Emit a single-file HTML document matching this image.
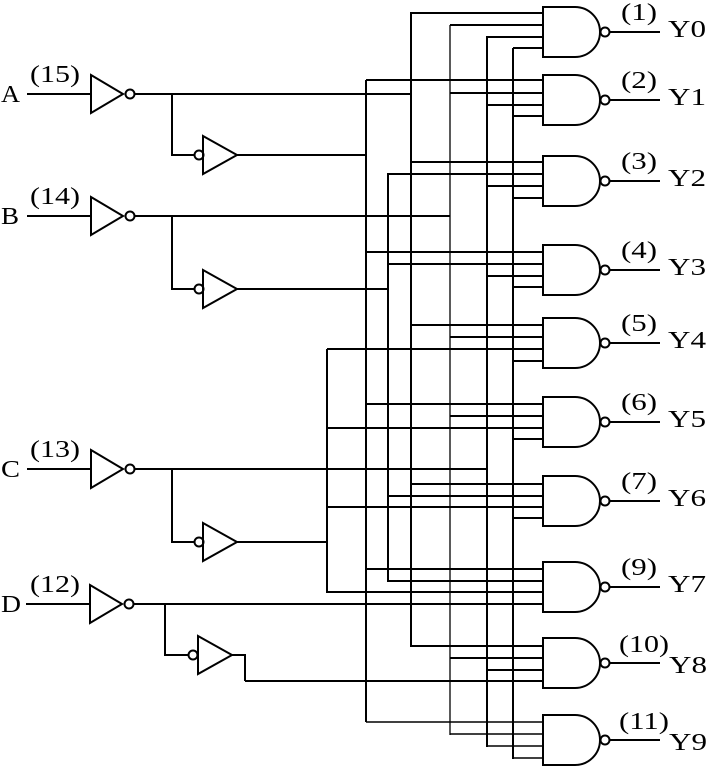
<!DOCTYPE html>
<html><head><style>html,body{margin:0;padding:0;background:#fff}svg{display:block}</style></head><body>
<svg width="707" height="767" viewBox="0 0 707 767" xmlns="http://www.w3.org/2000/svg" font-family="Liberation Serif, serif" font-size="24">
<g stroke="#000" stroke-width="2" fill="none">
<line x1="327" y1="349" x2="327" y2="593"/>
<line x1="366" y1="80" x2="366" y2="722"/>
<line x1="388" y1="173" x2="388" y2="582"/>
<line x1="411" y1="12" x2="411" y2="647"/>
<line x1="450" y1="25" x2="450" y2="735" stroke-width="1.3"/>
<line x1="487" y1="36" x2="487" y2="747"/>
<line x1="513" y1="48" x2="513" y2="759"/>
<path d="M411 13H543M450 25H543M487 37H543M513 48H543"/>
<path d="M366 80H543M450 93H543M487 105H543M513 116H543"/>
<path d="M411 162H543M388 174H543M487 186H543M513 198H543"/>
<path d="M366 252H543M388 264H543M487 276H543M513 287H543"/>
<path d="M411 325H543M450 337H543M327 349H543M513 361H543"/>
<path d="M366 404H543M450 416H543M327 428H543M513 439H543"/>
<path d="M411 484H543M388 496H543M327 507H543M513 518H543"/>
<path d="M366 569H543M388 581H543M327 592H543M134 604H543"/>
<path d="M411 646H543M450 658H543M487 670H543M245 681H543"/>
<path d="M366 722H543M450 734H543M487 746H543M513 758H543" stroke-width="1.4"/>
<path d="M134 94H411M237 155H366M134 216H450M237 289H388M134 469H487M237 542H327"/>
<path d="M232 655H245V681"/>
<g>
<path d="M27 94H91M91 75L123 94L91 113Z"/><circle cx="130" cy="94" r="4.5"/>
<path d="M172 94V155H194"/><circle cx="199" cy="155" r="4.5"/><path d="M203 136L237 155L203 174Z"/>
</g>
<g transform="translate(0,122)">
<path d="M27 94H91M91 75L123 94L91 113Z"/><circle cx="130" cy="94" r="4.5"/>
<path d="M172 94V167H194"/><circle cx="199" cy="167" r="4.5"/><path d="M203 148L237 167L203 186Z"/>
</g>
<g transform="translate(0,375)">
<path d="M27 94H91M91 75L123 94L91 113Z"/><circle cx="130" cy="94" r="4.5"/>
<path d="M172 94V167H194"/><circle cx="199" cy="167" r="4.5"/><path d="M203 148L237 167L203 186Z"/>
</g>
<path d="M26 604H90M90 585L122 604L90 623Z"/><circle cx="129" cy="604" r="4.5"/>
<path d="M165 604V655H188"/><circle cx="193" cy="655" r="4.5"/><path d="M198 636L232 655L198 674Z"/>
<g id="g0"><path d="M543 7H575A25 25 0 0 1 575 57H543Z"/><circle cx="605" cy="32" r="4.5"/><path d="M609 32H660"/></g>
<use href="#g0" y="68"/>
<use href="#g0" y="149"/>
<use href="#g0" y="238"/>
<use href="#g0" y="311"/>
<use href="#g0" y="390"/>
<use href="#g0" y="469"/>
<use href="#g0" y="555"/>
<use href="#g0" y="631"/>
<use href="#g0" y="708"/>
</g>
<g fill="#000" lengthAdjust="spacingAndGlyphs">
<text x="1" y="102" textLength="19" lengthAdjust="spacingAndGlyphs">A</text><text x="30" y="82" textLength="50" lengthAdjust="spacingAndGlyphs">(15)</text>
<text x="1" y="224" textLength="18" lengthAdjust="spacingAndGlyphs">B</text><text x="30" y="204" textLength="50" lengthAdjust="spacingAndGlyphs">(14)</text>
<text x="1" y="477" textLength="19" lengthAdjust="spacingAndGlyphs">C</text><text x="30" y="457" textLength="50" lengthAdjust="spacingAndGlyphs">(13)</text>
<text x="1" y="612" textLength="20" lengthAdjust="spacingAndGlyphs">D</text><text x="30" y="592" textLength="50" lengthAdjust="spacingAndGlyphs">(12)</text>
<text x="621" y="20" textLength="36" lengthAdjust="spacingAndGlyphs">(1)</text><text x="668" y="37" textLength="38" lengthAdjust="spacingAndGlyphs">Y0</text>
<text x="621" y="88" textLength="36" lengthAdjust="spacingAndGlyphs">(2)</text><text x="668" y="105" textLength="38" lengthAdjust="spacingAndGlyphs">Y1</text>
<text x="621" y="169" textLength="36" lengthAdjust="spacingAndGlyphs">(3)</text><text x="668" y="186" textLength="38" lengthAdjust="spacingAndGlyphs">Y2</text>
<text x="621" y="258" textLength="36" lengthAdjust="spacingAndGlyphs">(4)</text><text x="668" y="275" textLength="38" lengthAdjust="spacingAndGlyphs">Y3</text>
<text x="621" y="331" textLength="36" lengthAdjust="spacingAndGlyphs">(5)</text><text x="668" y="348" textLength="38" lengthAdjust="spacingAndGlyphs">Y4</text>
<text x="621" y="410" textLength="36" lengthAdjust="spacingAndGlyphs">(6)</text><text x="668" y="427" textLength="38" lengthAdjust="spacingAndGlyphs">Y5</text>
<text x="621" y="489" textLength="36" lengthAdjust="spacingAndGlyphs">(7)</text><text x="668" y="506" textLength="38" lengthAdjust="spacingAndGlyphs">Y6</text>
<text x="621" y="575" textLength="36" lengthAdjust="spacingAndGlyphs">(9)</text><text x="668" y="592" textLength="38" lengthAdjust="spacingAndGlyphs">Y7</text>
<text x="619" y="652" textLength="50" lengthAdjust="spacingAndGlyphs">(10)</text><text x="669" y="673" textLength="38" lengthAdjust="spacingAndGlyphs">Y8</text>
<text x="619" y="729" textLength="50" lengthAdjust="spacingAndGlyphs">(11)</text><text x="669" y="750" textLength="38" lengthAdjust="spacingAndGlyphs">Y9</text>
</g>
</svg>
</body></html>
